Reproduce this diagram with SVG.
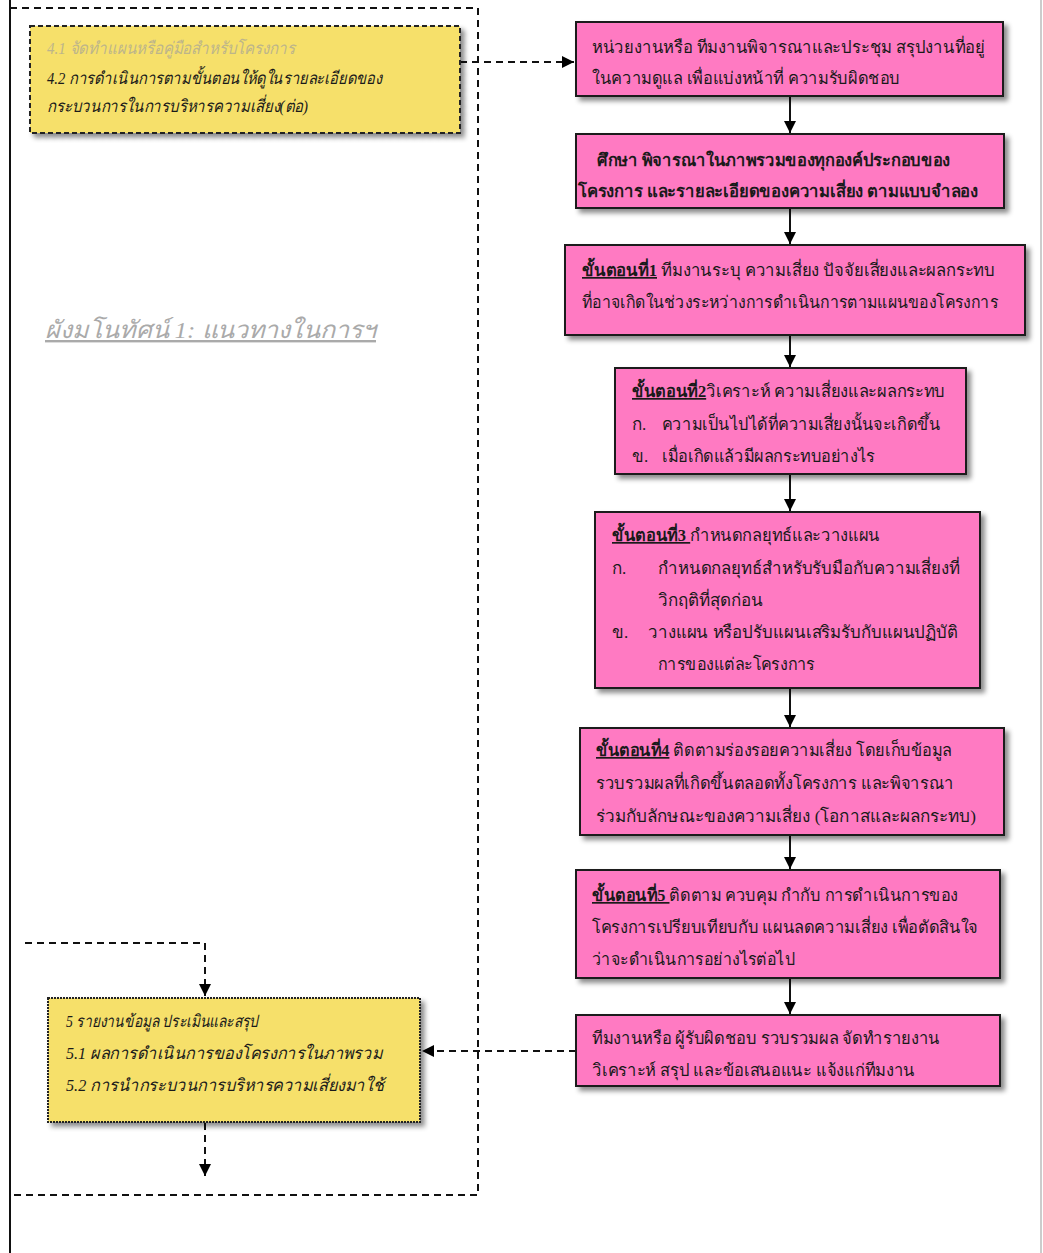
<svg xmlns="http://www.w3.org/2000/svg" width="1043" height="1253" viewBox="0 0 1043 1253">
<style>
.pink{fill:#ff7ac2;stroke:#1a1a1a;stroke-width:2}
.yel{fill:#f6e06a;stroke:#222;stroke-width:2;stroke-dasharray:5 3}
.t{font-family:"Liberation Serif","Noto Sans CJK SC",serif;font-size:17px;fill:#1a1a1a}
.b{font-weight:bold}
.u{text-decoration:underline;font-weight:bold}
.it{font-family:"Liberation Serif","Noto Sans CJK SC",serif;font-size:17px;font-style:italic;fill:#1a1a1a}
.solid{stroke:#111;stroke-width:2;fill:none}
.dash{stroke:#111;stroke-width:2;fill:none;stroke-dasharray:7 5}
</style>
<defs>
<marker id="ah" viewBox="0 0 10 10" refX="10" refY="5" markerWidth="12" markerHeight="12" markerUnits="userSpaceOnUse" orient="auto">
<path d="M0,0 L10,5 L0,10 z" fill="#000"/>
</marker>
<filter id="sh" x="-5%" y="-10%" width="115%" height="130%">
<feDropShadow dx="4" dy="4" stdDeviation="2.5" flood-color="#000" flood-opacity="0.45"/>
</filter>
</defs>
<rect width="1043" height="1253" fill="#fff"/>
<g id="frame">
<line x1="10" y1="0" x2="10" y2="1253" stroke="#111" stroke-width="2"/>
<line x1="1041" y1="0" x2="1041" y2="1253" stroke="#bbb" stroke-width="1.5"/>
<path class="dash" d="M10,8 H478 V1195 H10"/>
</g>
<g id="title">
<text x="45" y="338" font-family="Liberation Serif,serif" font-size="24" font-style="italic" fill="#aaa" text-decoration="underline" textLength="331" lengthAdjust="spacingAndGlyphs">ผังมโนทัศน์ 1: แนวทางในการฯ</text>
</g>
<g id="connectors">
<path class="dash" d="M460,62 H574" marker-end="url(#ah)"/>
<path class="solid" d="M790,97 V133" marker-end="url(#ah)"/>
<path class="solid" d="M790,209 V244" marker-end="url(#ah)"/>
<path class="solid" d="M790,336 V367" marker-end="url(#ah)"/>
<path class="solid" d="M790,475 V511" marker-end="url(#ah)"/>
<path class="solid" d="M790,689 V727" marker-end="url(#ah)"/>
<path class="solid" d="M790,836 V869" marker-end="url(#ah)"/>
<path class="solid" d="M790,979 V1014" marker-end="url(#ah)"/>
<path class="dash" d="M576,1051 H422" marker-end="url(#ah)"/>
<path class="dash" d="M25,943 H205 V996" marker-end="url(#ah)"/>
<path class="dash" d="M205,1123 V1176" marker-end="url(#ah)"/>
</g>
<g id="y1">
<rect class="yel" x="30" y="26" width="430" height="107" filter="url(#sh)"/>
<text class="it" x="47" y="54" style="fill:#bdb58a" textLength="248" lengthAdjust="spacingAndGlyphs">4.1 จัดทำแผนหรือคู่มือสำหรับโครงการ</text>
<text class="it" x="47" y="84" textLength="335" lengthAdjust="spacingAndGlyphs">4.2 การดำเนินการตามขั้นตอนให้ดูในรายละเอียดของ</text>
<text class="it" x="47" y="112" textLength="261" lengthAdjust="spacingAndGlyphs">กระบวนการในการบริหารความเสี่ยง(ต่อ)</text>
</g>
<g id="p1">
<rect class="pink" x="576" y="22" width="427" height="74" filter="url(#sh)"/>
<text class="t" x="592" y="53" textLength="393" lengthAdjust="spacingAndGlyphs">หน่วยงานหรือ ทีมงานพิจารณาและประชุม สรุปงานที่อยู่</text>
<text class="t" x="592" y="84" textLength="308" lengthAdjust="spacingAndGlyphs">ในความดูแล เพื่อแบ่งหน้าที่ ความรับผิดชอบ</text>
</g>
<g id="p2">
<rect class="pink" x="576" y="134" width="428" height="74" filter="url(#sh)"/>
<text class="t b" x="597" y="166" textLength="353" lengthAdjust="spacingAndGlyphs">ศึกษา พิจารณาในภาพรวมของทุกองค์ประกอบของ</text>
<text class="t b" x="578" y="197" textLength="400" lengthAdjust="spacingAndGlyphs">โครงการ และรายละเอียดของความเสี่ยง ตามแบบจำลอง</text>
</g>
<g id="p3">
<rect class="pink" x="565" y="245" width="460" height="90" filter="url(#sh)"/>
<text class="t" x="582" y="276" textLength="413" lengthAdjust="spacingAndGlyphs"><tspan class="u">ขั้นตอนที่1</tspan> ทีมงานระบุ ความเสี่ยง ปัจจัยเสี่ยงและผลกระทบ</text>
<text class="t" x="582" y="308" textLength="416" lengthAdjust="spacingAndGlyphs">ที่อาจเกิดในช่วงระหว่างการดำเนินการตามแผนของโครงการ</text>
</g>
<g id="p4">
<rect class="pink" x="615" y="368" width="351" height="106" filter="url(#sh)"/>
<text class="t" x="632" y="397" textLength="313" lengthAdjust="spacingAndGlyphs"><tspan class="u">ขั้นตอนที่2</tspan>วิเคราะห์ ความเสี่ยงและผลกระทบ</text>
<text class="t" x="632" y="430">ก.</text>
<text class="t" x="662" y="430" textLength="278" lengthAdjust="spacingAndGlyphs">ความเป็นไปได้ที่ความเสี่ยงนั้นจะเกิดขึ้น</text>
<text class="t" x="632" y="462">ข.</text>
<text class="t" x="662" y="462" textLength="213" lengthAdjust="spacingAndGlyphs">เมื่อเกิดแล้วมีผลกระทบอย่างไร</text>
</g>
<g id="p5">
<rect class="pink" x="595" y="512" width="385" height="176" filter="url(#sh)"/>
<text class="t" x="612" y="541" textLength="268" lengthAdjust="spacingAndGlyphs"><tspan class="u">ขั้นตอนที่3 </tspan>กำหนดกลยุทธ์และวางแผน</text>
<text class="t" x="612" y="574">ก.</text>
<text class="t" x="658" y="574" textLength="302" lengthAdjust="spacingAndGlyphs">กำหนดกลยุทธ์สำหรับรับมือกับความเสี่ยงที่</text>
<text class="t" x="658" y="606" textLength="105" lengthAdjust="spacingAndGlyphs">วิกฤติที่สุดก่อน</text>
<text class="t" x="612" y="638">ข.</text>
<text class="t" x="648" y="638" textLength="310" lengthAdjust="spacingAndGlyphs">วางแผน หรือปรับแผนเสริมรับกับแผนปฏิบัติ</text>
<text class="t" x="658" y="670" textLength="157" lengthAdjust="spacingAndGlyphs">การของแต่ละโครงการ</text>
</g>
<g id="p6">
<rect class="pink" x="580" y="728" width="424" height="107" filter="url(#sh)"/>
<text class="t" x="596" y="756" textLength="356" lengthAdjust="spacingAndGlyphs"><tspan class="u">ขั้นตอนที่4</tspan> ติดตามร่องรอยความเสี่ยง โดยเก็บข้อมูล</text>
<text class="t" x="596" y="789" textLength="358" lengthAdjust="spacingAndGlyphs">รวบรวมผลที่เกิดขึ้นตลอดทั้งโครงการ และพิจารณา</text>
<text class="t" x="596" y="822" textLength="380" lengthAdjust="spacingAndGlyphs">ร่วมกับลักษณะของความเสี่ยง (โอกาสและผลกระทบ)</text>
</g>
<g id="p7">
<rect class="pink" x="576" y="870" width="424" height="108" filter="url(#sh)"/>
<text class="t" x="592" y="901" textLength="366" lengthAdjust="spacingAndGlyphs"><tspan class="u">ขั้นตอนที่5 </tspan> ติดตาม ควบคุม กำกับ การดำเนินการของ</text>
<text class="t" x="592" y="933" textLength="386" lengthAdjust="spacingAndGlyphs">โครงการเปรียบเทียบกับ แผนลดความเสี่ยง เพื่อตัดสินใจ</text>
<text class="t" x="592" y="965" textLength="203" lengthAdjust="spacingAndGlyphs">ว่าจะดำเนินการอย่างไรต่อไป</text>
</g>
<g id="p8">
<rect class="pink" x="576" y="1015" width="424" height="71" filter="url(#sh)"/>
<text class="t" x="592" y="1044" textLength="348" lengthAdjust="spacingAndGlyphs">ทีมงานหรือ ผู้รับผิดชอบ รวบรวมผล จัดทำรายงาน</text>
<text class="t" x="592" y="1076" textLength="323" lengthAdjust="spacingAndGlyphs">วิเคราะห์ สรุป และข้อเสนอแนะ แจ้งแก่ทีมงาน</text>
</g>
<g id="y2">
<rect class="yel" x="48" y="998" width="372" height="124" filter="url(#sh)" style="stroke-dasharray:2 1"/>
<text class="it" x="66" y="1027" textLength="192" lengthAdjust="spacingAndGlyphs">5 รายงานข้อมูล ประเมินและสรุป</text>
<text class="it" x="66" y="1059" textLength="316" lengthAdjust="spacingAndGlyphs">5.1 ผลการดำเนินการของโครงการในภาพรวม</text>
<text class="it" x="66" y="1091" textLength="318" lengthAdjust="spacingAndGlyphs">5.2 การนำกระบวนการบริหารความเสี่ยงมาใช้</text>
</g>
</svg>
